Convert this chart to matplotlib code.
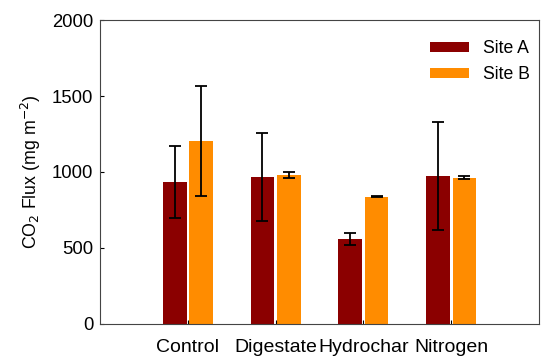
import numpy as np
import matplotlib
matplotlib.use('Agg')
import matplotlib.pyplot as plt

plt.rcParams['font.family'] = ['Liberation Sans', 'DejaVu Sans']

treatments = ['Control', 'Digestate', 'Hydrochar', 'Nitrogen']
site_a = [932, 969, 559, 974]
site_a_err = [238, 290, 40, 355]
site_b = [1204, 982, 838, 962]
site_b_err = [365, 20, 3, 10]

fig = plt.figure(figsize=(5.5, 3.64), dpi=100)
ax = fig.add_axes([0.182, 0.11, 0.798, 0.835])

x = np.arange(1, len(treatments) + 1)
w = 0.27
ax.bar(x - 0.15, site_a, w, yerr=site_a_err, color='#8B0000', label='Site A',
       error_kw=dict(ecolor='black', elinewidth=1.3, capsize=4, capthick=1.3))
ax.bar(x + 0.15, site_b, w, yerr=site_b_err, color='#FF8C00', label='Site B',
       error_kw=dict(ecolor='black', elinewidth=1.3, capsize=4, capthick=1.3))

ax.set_xlim(0, 5)
ax.set_ylim(0, 2000)
ax.set_yticks([0, 500, 1000, 1500, 2000])
ax.set_xticks(x)
ax.set_xticklabels(treatments, fontsize=14)
ax.tick_params(axis='y', labelsize=13.3, direction='in', length=3, pad=5)
ax.tick_params(axis='x', direction='in', length=3, pad=11)
ax.set_ylabel('CO$_2$ Flux (mg m$^{-2}$)', fontsize=12.8, labelpad=6)

for s in ax.spines.values():
    s.set_color('#444444')

ax.legend(loc='upper right', frameon=False, fontsize=12.7, handlelength=2.2,
          handleheight=0.45, labelspacing=0.5, handletextpad=0.8,
          bbox_to_anchor=(1.015, 0.985))

fig.savefig('out.png', dpi=100)
